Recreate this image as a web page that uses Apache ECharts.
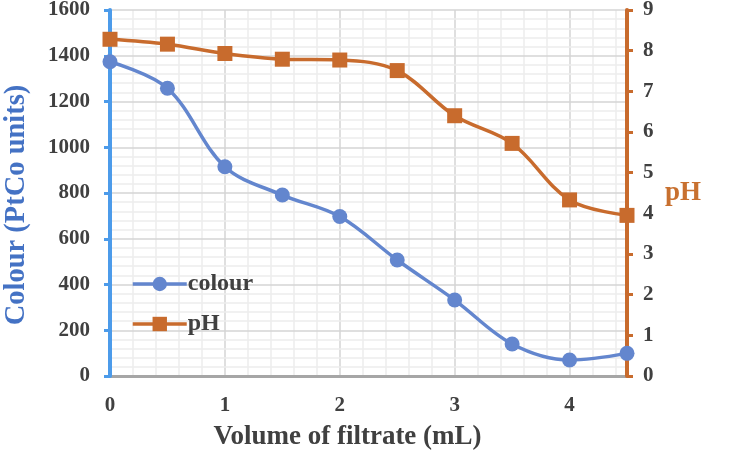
<!DOCTYPE html>
<html>
<head>
<meta charset="utf-8">
<script src="https://cdn.jsdelivr.net/npm/echarts@6/dist/echarts.min.js"></script>
<style>html,body{margin:0;padding:0;background:#fff}#c{width:737px;height:469px}</style>
</head>
<body>
<div id="c"></div>
<script>
var volume = [0, 0.5, 1, 1.5, 2, 2.5, 3, 3.5, 4, 4.5];
var colourValues = [1374, 1258, 915, 791, 697, 507, 332, 140, 70, 99];
var phValues = [8.28, 8.16, 7.93, 7.79, 7.77, 7.51, 6.40, 5.72, 4.33, 3.95];
var xTicks = [0, 1, 2, 3, 4];

var FONT = '"Liberation Serif", "Times New Roman", serif';
var BLUE = '#6386CE';
var ORANGE = '#C86B2D';
var AXISBLUE = '#4C9BEA';

var chart = echarts.init(document.getElementById('c'));
chart.setOption({
  animation: false,
  backgroundColor: '#ffffff',
  grid: { left: 110, right: 110, top: 10, bottom: 93, containLabel: false, outerBoundsMode: 'none' },
  legend: {
    left: 126, top: 267, orient: 'vertical',
    itemWidth: 54, itemHeight: 18, itemGap: 16,
    lineStyle: { width: 3.5 },
    textStyle: { fontFamily: FONT, fontWeight: 'bold', fontSize: 24, color: '#404040', padding: [0, 0, 0, -4] },
    data: ['colour', 'pH']
  },
  xAxis: {
    type: 'value', min: 0, max: 4.5, interval: 1, z: 0,
    name: 'Volume of filtrate (mL)', nameLocation: 'middle', nameGap: 48,
    nameTextStyle: { fontFamily: FONT, fontWeight: 'bold', fontSize: 27, color: '#404040', padding: [0, 42, 0, 0] },
    axisLine: { show: true, lineStyle: { color: '#A6A6A6', width: 3 } },
    axisTick: { show: false },
    axisLabel: {
      margin: 19, fontFamily: FONT, fontWeight: 'bold', fontSize: 21, color: '#404040',
      formatter: function (v) { return xTicks.indexOf(v) >= 0 ? String(v) : ''; }
    },
    splitLine: { show: true, showMinLine: false, showMaxLine: false, lineStyle: { color: '#D4D4D4', width: 1.5 } },
    minorTick: { show: false, splitNumber: 5 },
    minorSplitLine: { show: true, lineStyle: { color: '#EDEDED', width: 1.5 } }
  },
  yAxis: [{
    type: 'value', min: 0, max: 1600, interval: 200, position: 'left', z: 1,
    name: 'Colour (PtCo units)', nameLocation: 'middle', nameGap: 79,
    nameTextStyle: { fontFamily: FONT, fontWeight: 'bold', fontSize: 28.5, color: '#4472C4', padding: [0, 24, 0, 0] },
    axisLine: { show: true, onZero: false, lineStyle: { color: AXISBLUE, width: 4 } },
    axisTick: { show: true, inside: false, length: 6, lineStyle: { color: AXISBLUE, width: 3 } },
    axisLabel: { margin: 20, fontFamily: FONT, fontWeight: 'bold', fontSize: 21, color: '#404040',
      formatter: function (v) { return String(v); } },
    splitLine: { show: true, showMinLine: false, lineStyle: { color: '#D4D4D4', width: 1.5 } },
    minorTick: { show: false, splitNumber: 5 },
    minorSplitLine: { show: true, lineStyle: { color: '#EDEDED', width: 1.5 } }
  }, {
    type: 'value', min: 0, max: 9, interval: 1, position: 'right', z: 1,
    name: 'pH', nameLocation: 'middle', nameGap: 38, nameRotate: 0,
    nameTextStyle: { fontFamily: FONT, fontWeight: 'bold', fontSize: 27, color: '#C8702F', padding: [0, 0, 40, 0] },
    axisLine: { show: true, onZero: false, lineStyle: { color: ORANGE, width: 4 } },
    axisTick: { show: true, inside: false, length: 6, lineStyle: { color: ORANGE, width: 3 } },
    axisLabel: { margin: 16, fontFamily: FONT, fontWeight: 'bold', fontSize: 21, color: '#404040' },
    splitLine: { show: false }
  }],
  series: [{
    name: 'colour', type: 'line', yAxisIndex: 0, smooth: 0.35,
    data: volume.map(function (x, i) { return [x, colourValues[i]]; }),
    symbol: 'circle', symbolSize: 15,
    itemStyle: { color: BLUE },
    lineStyle: { color: BLUE, width: 3.5 },
    clip: false, z: 3
  }, {
    name: 'pH', type: 'line', yAxisIndex: 1, smooth: 0.35,
    data: volume.map(function (x, i) { return [x, phValues[i]]; }),
    symbol: 'rect', symbolSize: 15,
    itemStyle: { color: ORANGE },
    lineStyle: { color: ORANGE, width: 3.5 },
    clip: false, z: 4
  }]
});
</script>
</body>
</html>
